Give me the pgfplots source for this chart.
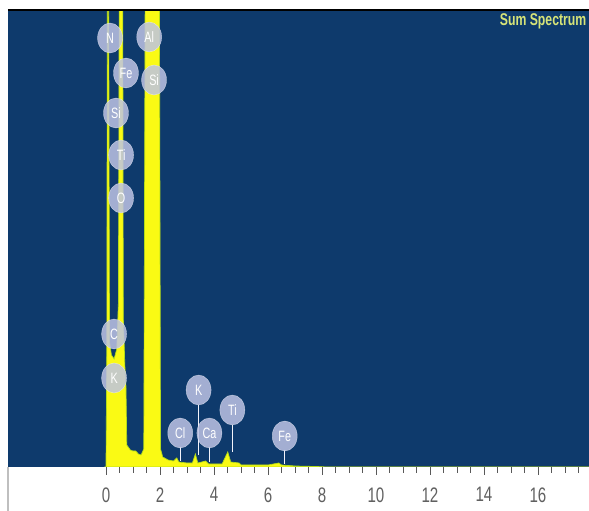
\documentclass[border=0pt]{standalone}
\usepackage{pgfplots}
\pgfplotsset{compat=1.18}
\usepackage{fontspec}
\setmainfont{Liberation Sans}
\newfontfamily\narrow[FakeStretch=0.72]{Liberation Sans}
\usetikzlibrary{shapes.geometric}
\definecolor{navy}{RGB}{14,58,108}
\definecolor{peak}{RGB}{250,250,20}
\definecolor{lbl}{RGB}{190,195,228}
\definecolor{sumtxt}{RGB}{215,228,120}
\begin{document}
\begin{tikzpicture}[x=1pt,y=1pt]
\path[use as bounding box] (0,0) rectangle (589,511);
\draw[gray!50, line width=1.2pt] (8,0) -- (8,44);
\begin{axis}[
  at={(8pt,44pt)}, anchor=south west,
  scale only axis, width=581pt, height=457pt,
  xmin=-3.63, xmax=17.89, ymin=0, ymax=457,
  axis background/.style={fill=navy},
  axis line style={draw=none},
  xtick={0,2,...,16},
  minor xtick={0.5,1,...,17.5},
  ytick=\empty,
  xtick pos=left,
  tick align=outside,
  major tick length=8pt, minor tick length=6pt,
  every tick/.style={gray!70!black, line width=0.9pt},
  /pgf/number format/assume math mode=true,
  xticklabel style={font=\narrow\fontsize{21}{21}\selectfont, text=gray!75!black, yshift=-9pt},
  clip=true,
]
\addplot[fill=peak, draw=yellow!70!green, line width=0.7pt] coordinates {
(-0.06,0) (0.00,0) (0.03,120) (0.05,470) (0.10,470) (0.13,125) (0.20,112) (0.30,108)
(0.40,118) (0.46,165) (0.49,470) (0.62,470) (0.64,150) (0.70,100) (0.74,80) (0.77,22)
(0.90,17) (1.00,16) (1.10,16) (1.20,13) (1.30,12) (1.40,18) (1.45,470) (1.98,470) (2.02,18)
(2.10,10) (2.30,7) (2.50,6) (2.62,9) (2.70,5) (3.00,4) (3.20,4) (3.31,13) (3.40,4)
(3.69,6) (3.80,3) (4.30,3) (4.51,15) (4.62,5) (4.93,4) (5.00,2) (6.00,2) (6.40,4)
(6.50,2) (7.00,1) (7.80,0.5) (8.2,0) (17.9,0)
} \closedcycle;
\draw[black, line width=2pt] (rel axis cs:0,1) -- (rel axis cs:1,1);
\node[anchor=east, text=sumtxt, font=\narrow\bfseries\fontsize{17}{17}\selectfont] at (axis cs:17.92,446) {Sum Spectrum};
% stems
\draw[white!80!lbl, line width=0.8pt] (axis cs:3.43,62) -- (axis cs:3.43,12);
\draw[white!80!lbl, line width=0.8pt] (axis cs:2.75,20) -- (axis cs:2.75,6);
\draw[white!80!lbl, line width=0.8pt] (axis cs:3.83,20) -- (axis cs:3.83,5);
\draw[white!80!lbl, line width=0.8pt] (axis cs:4.68,42) -- (axis cs:4.68,15);
\draw[white!80!lbl, line width=0.8pt] (axis cs:6.62,17) -- (axis cs:6.62,3);
\tikzset{el/.style={ellipse, fill=lbl, fill opacity=0.85, text opacity=1, text=white, draw=white!85!lbl, draw opacity=0.6, minimum width=25pt, minimum height=30pt, inner sep=0pt, font=\narrow\fontsize{15}{15}\selectfont}}
\node[el] at (axis cs:0.15,429) {N};
\node[el] at (axis cs:0.74,394) {Fe};
\node[el] at (axis cs:0.37,354) {Si};
\node[el] at (axis cs:0.56,312) {Ti};
\node[el] at (axis cs:0.56,269) {O};
\node[el] at (axis cs:0.30,133) {C};
\node[el] at (axis cs:0.30,89) {K};
\node[el] at (axis cs:1.60,430) {Al};
\node[el] at (axis cs:1.78,387) {Si};
\node[el] at (axis cs:3.43,77) {K};
\node[el] at (axis cs:2.75,34) {Cl};
\node[el] at (axis cs:3.83,34) {Ca};
\node[el] at (axis cs:4.68,57) {Ti};
\node[el] at (axis cs:6.62,31) {Fe};
\end{axis}
\end{tikzpicture}
\end{document}
